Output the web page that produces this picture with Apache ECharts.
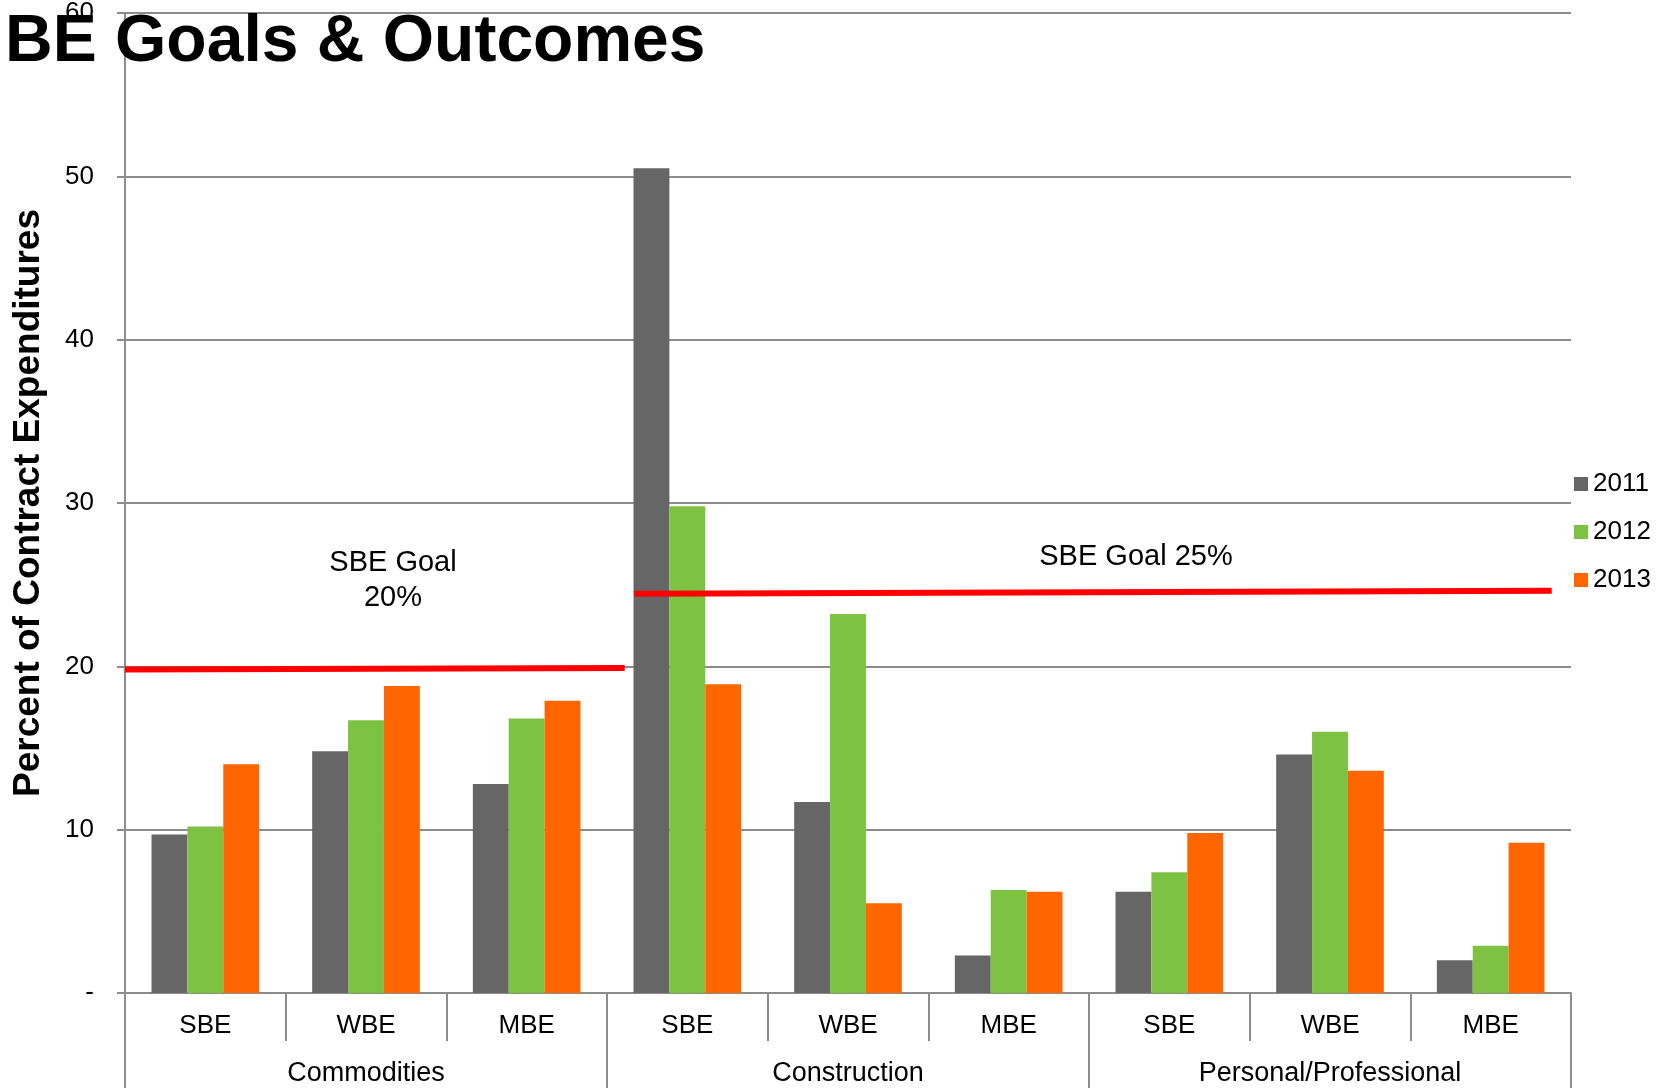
<!DOCTYPE html>
<html>
<head>
<meta charset="utf-8">
<title>BE Goals & Outcomes</title>
<script src="https://cdn.jsdelivr.net/npm/echarts@6/dist/echarts.min.js"></script>
<style>
  html, body { margin: 0; padding: 0; background: #fff; }
  #chart { width: 1672px; height: 1088px; }
</style>
</head>
<body>
<div id="chart"></div>
<script>
// categories
const subCategories = ['SBE', 'WBE', 'MBE', 'SBE', 'WBE', 'MBE', 'SBE', 'WBE', 'MBE']
const groups = ['Commodities', 'Construction', 'Personal/Professional']
const years = ['2011', '2012', '2013']

// percent of contract expenditures
const data2011 = [9.7, 14.8, 12.8, 50.5, 11.7, 2.3, 6.2, 14.6, 2.0]
const data2012 = [10.2, 16.7, 16.8, 29.8, 23.2, 6.3, 7.4, 16.0, 2.9]
const data2013 = [14.0, 18.8, 17.9, 18.9, 5.5, 6.2, 9.8, 13.6, 9.2]

// goal lines, x in category units (0..9), y in percent
const goal20 = [[0, 19.8], [3.11, 19.9]]
const goal25 = [[3.17, 24.45], [8.88, 24.62]]

const yTicks = { min: 0, max: 60, interval: 10 }

const FONT = 'Liberation Sans, Arial, sans-serif'
const GRID_COLOR = '#8c8c8c'
const colors = ['#666666', '#7DC242', '#FF6600']

const chart = echarts.init(document.getElementById('chart'), null, { renderer: 'canvas' })

const barSeries = [data2011, data2012, data2013].map((d, i) => ({
  name: years[i],
  type: 'bar',
  xAxisIndex: 0,
  barGap: 0,
  barCategoryGap: '33%',
  itemStyle: { color: colors[i] },
  data: d,
}))

const goalSeries = [goal20, goal25].map((d, i) => ({
  name: 'goal' + i,
  type: 'line',
  xAxisIndex: 2,
  symbol: 'none',
  silent: true,
  z: 5,
  lineStyle: { color: '#FF0000', width: 6 },
  data: d,
}))

const option = {
  animation: false,
  textStyle: { fontFamily: FONT },
  title: {
    text: 'BE Goals & Outcomes',
    left: 0,
    top: 5,
    textStyle: { fontSize: 66, fontWeight: 'bold', color: '#000', fontFamily: FONT },
  },
  legend: {
    data: years,
    orient: 'vertical',
    left: 1569,
    top: 466,
    itemWidth: 14,
    itemHeight: 14,
    itemGap: 22,
    icon: 'rect',
    textStyle: { fontSize: 26, color: '#000', fontFamily: FONT },
  },
  grid: {
    left: 125,
    right: 101,
    top: 12,
    bottom: 95,
    containLabel: false,
  },
  xAxis: [
    {
      type: 'category',
      data: subCategories,
      position: 'bottom',
      axisLine: { lineStyle: { color: GRID_COLOR, width: 2 } },
      axisTick: { show: true, length: 48, lineStyle: { color: GRID_COLOR, width: 2 } },
      axisLabel: { fontSize: 26, color: '#000', margin: 20, fontFamily: FONT },
    },
    {
      type: 'category',
      data: groups,
      position: 'bottom',
      axisLine: { show: false },
      axisTick: { show: true, length: 100, lineStyle: { color: GRID_COLOR, width: 2 } },
      axisLabel: { fontSize: 27, color: '#000', margin: 67, fontFamily: FONT },
    },
    {
      // hidden value axis for the goal lines
      type: 'value',
      min: 0,
      max: 9,
      show: false,
    },
  ],
  yAxis: {
    type: 'value',
    min: yTicks.min,
    max: yTicks.max,
    interval: yTicks.interval,
    name: 'Percent of Contract Expenditures',
    nameLocation: 'middle',
    nameGap: 78,
    nameTextStyle: { fontSize: 37, fontWeight: 'bold', color: '#000', fontFamily: FONT },
    axisLine: { show: true, lineStyle: { color: GRID_COLOR, width: 2 } },
    axisTick: { show: true, length: 8, lineStyle: { color: GRID_COLOR, width: 2 } },
    axisLabel: {
      fontSize: 26,
      color: '#000',
      margin: 31,
      fontFamily: FONT,
      formatter: (v) => (v === 0 ? '-' : v),
    },
    splitLine: { lineStyle: { color: GRID_COLOR, width: 2 } },
  },
  graphic: [
    {
      type: 'text',
      x: 393,
      y: 580,
      style: {
        text: 'SBE Goal\n20%',
        align: 'center',
        verticalAlign: 'middle',
        lineHeight: 35,
        font: '29px ' + FONT,
        fill: '#000',
      },
    },
    {
      type: 'text',
      x: 1136,
      y: 557,
      style: {
        text: 'SBE Goal 25%',
        align: 'center',
        verticalAlign: 'middle',
        font: '29px ' + FONT,
        fill: '#000',
      },
    },
  ],
  series: [...barSeries, ...goalSeries],
}

chart.setOption(option)
</script>
</body>
</html>
